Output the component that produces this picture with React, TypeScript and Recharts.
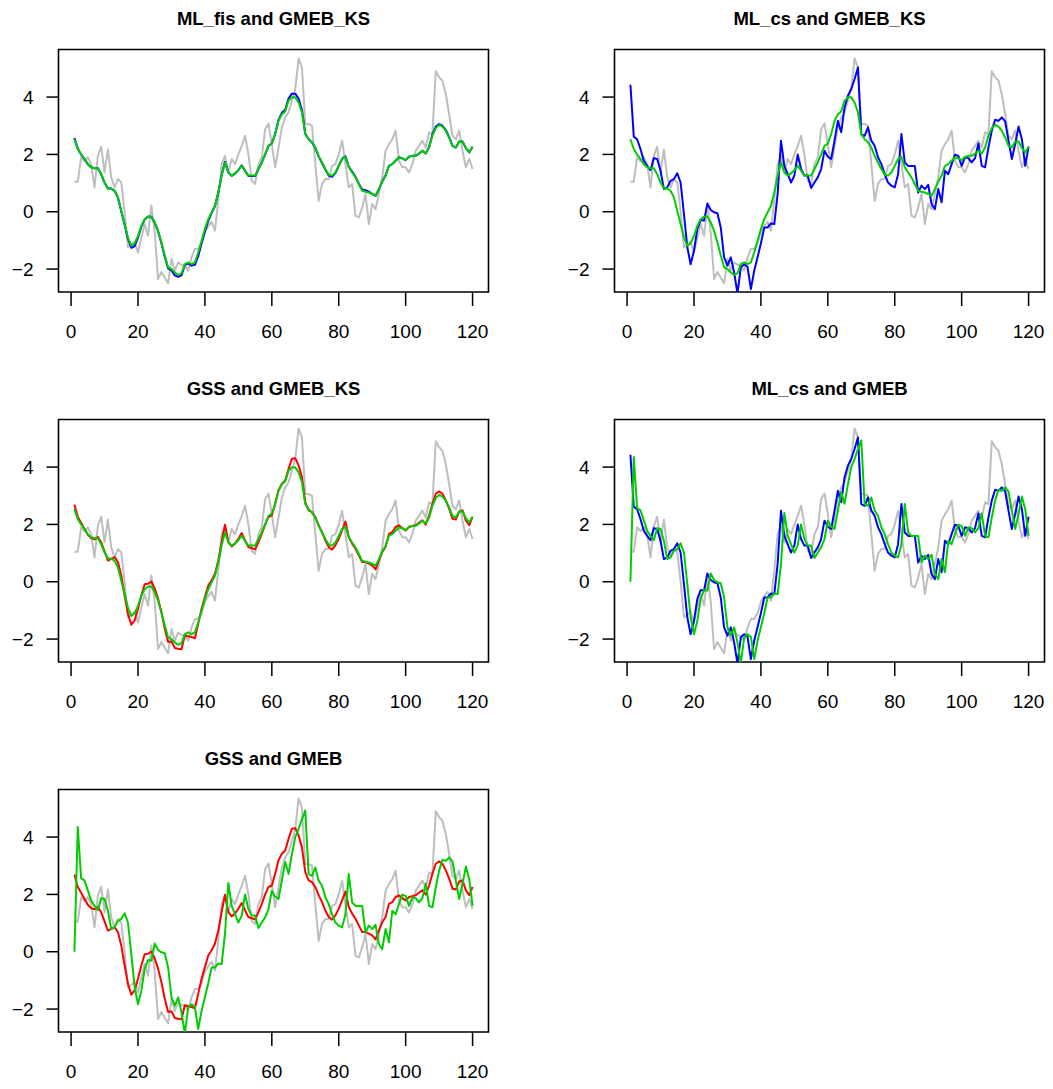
import React from "react";
import { LineChart, Line, XAxis, YAxis, ReferenceArea } from "recharts";

// Time index 1..120
const TIME: number[] = Array.from({ length: 120 }, (_, i) => i + 1);

// Observed series (drawn in grey in every panel)
const TRUTH: number[] = [
  1.05, 1.05, 1.9, 1.77, 1.9, 1.66, 0.85, 1.95, 2.27, 1.37,
  2.17, 1.2, 0.85, 1.14, 1.02, 0.0, -1.24, -1.15, -1.05, -1.42,
  -0.9, -0.43, -0.84, 0.22, -0.7, -2.35, -2.1, -2.3, -2.49, -1.65,
  -2.06, -1.77, -1.85, -1.9, -2.06, -1.6, -1.3, -1.3, -1.1, -0.7,
  -0.5, -0.35, -0.66, 0.4, 1.66, 1.95, 1.37, 1.84, 1.66, 2.0,
  2.3, 2.65, 2.0, 1.08, 0.97, 1.66, 1.9, 2.88, 3.08, 2.36,
  1.55, 2.24, 2.94, 3.29, 3.47, 3.87, 4.28, 5.35, 5.03, 3.06,
  3.06, 3.0, 1.66, 0.38, 0.97, 1.14, 1.14, 1.6, 1.66, 2.0,
  2.48, 1.66, 0.85, 0.97, -0.14, -0.2, 0.15, 0.62, -0.43, 0.27,
  0.09, 0.62, 1.2, 2.13, 2.36, 2.53, 2.83, 1.78, 1.55, 1.55,
  1.37, 1.66, 2.13, 2.3, 2.48, 2.24, 2.77, 2.71, 4.9, 4.69,
  4.57, 4.1, 3.4, 2.65, 2.53, 2.83, 2.13, 1.55, 1.84, 1.49,
];

// Smoothed estimates
const GMEB_KS: number[] = [
  2.53, 2.19, 2.0, 1.84, 1.66, 1.55, 1.52, 1.52, 1.31, 1.02,
  0.81, 0.81, 0.73, 0.5, 0.03, -0.43, -0.9, -1.19, -1.1, -0.84,
  -0.49, -0.26, -0.17, -0.17, -0.37, -0.66, -1.07, -1.53, -1.94, -2.0,
  -2.12, -2.2, -2.15, -1.83, -1.77, -1.83, -1.77, -1.42, -1.01, -0.6,
  -0.26, -0.02, 0.21, 0.67, 1.26, 1.72, 1.37, 1.26, 1.34, 1.45,
  1.6, 1.43, 1.26, 1.26, 1.26, 1.49, 1.72, 2.0, 2.3, 2.38,
  2.71, 3.17, 3.4, 3.5, 3.87, 3.99, 3.99, 3.81, 3.47, 2.71,
  2.53, 2.42, 2.24, 1.95, 1.72, 1.49, 1.29, 1.26, 1.37, 1.6,
  1.84, 1.92, 1.55, 1.37, 1.2, 0.97, 0.73, 0.7, 0.67, 0.62,
  0.56, 0.79, 1.05, 1.26, 1.6, 1.66, 1.78, 1.9, 1.86, 1.8,
  1.92, 1.95, 1.95, 2.03, 2.13, 2.03, 2.24, 2.65, 2.92, 3.03,
  2.97, 2.83, 2.59, 2.3, 2.24, 2.45, 2.45, 2.22, 2.07, 2.27,
];

const ML_FIS: number[] = [
  2.57, 2.2, 2.0, 1.84, 1.66, 1.55, 1.52, 1.52, 1.31, 1.02,
  0.81, 0.81, 0.73, 0.5, 0.02, -0.45, -0.95, -1.26, -1.2, -0.9,
  -0.52, -0.27, -0.17, -0.18, -0.38, -0.68, -1.1, -1.57, -1.98, -2.05,
  -2.22, -2.27, -2.22, -1.86, -1.8, -1.88, -1.85, -1.55, -1.1, -0.7,
  -0.32, -0.05, 0.2, 0.67, 1.27, 1.74, 1.37, 1.25, 1.33, 1.45,
  1.62, 1.43, 1.25, 1.25, 1.25, 1.49, 1.72, 2.0, 2.3, 2.38,
  2.72, 3.2, 3.45, 3.56, 3.95, 4.12, 4.12, 3.95, 3.55, 2.72,
  2.53, 2.42, 2.22, 1.93, 1.7, 1.47, 1.26, 1.22, 1.35, 1.6,
  1.85, 1.93, 1.57, 1.4, 1.22, 0.98, 0.78, 0.75, 0.7, 0.62,
  0.55, 0.79, 1.05, 1.27, 1.6, 1.66, 1.78, 1.9, 1.86, 1.8,
  1.92, 1.95, 1.95, 2.03, 2.13, 2.03, 2.25, 2.7, 2.97, 3.06,
  3.0, 2.85, 2.6, 2.3, 2.24, 2.45, 2.45, 2.22, 2.07, 2.27,
];

const GSS: number[] = [
  2.69, 2.26, 2.06, 1.85, 1.64, 1.52, 1.48, 1.56, 1.38, 1.06,
  0.74, 0.8, 0.86, 0.69, 0.22, -0.48, -1.12, -1.5, -1.35, -0.94,
  -0.48, -0.09, -0.07, 0.01, -0.24, -0.59, -1.06, -1.64, -2.1, -2.08,
  -2.31, -2.34, -2.36, -1.87, -1.9, -1.93, -1.97, -1.47, -0.94, -0.53,
  -0.13, 0.05, 0.28, 0.74, 1.38, 1.99, 1.38, 1.23, 1.33, 1.5,
  1.7, 1.44, 1.21, 1.17, 1.13, 1.38, 1.67, 1.99, 2.26, 2.31,
  2.72, 3.19, 3.42, 3.53, 3.94, 4.29, 4.31, 4.06, 3.65, 2.78,
  2.49, 2.43, 2.26, 1.97, 1.73, 1.44, 1.21, 1.12, 1.27, 1.5,
  1.79, 2.1, 1.56, 1.33, 1.15, 0.92, 0.69, 0.69, 0.63, 0.57,
  0.43, 0.74, 1.03, 1.21, 1.67, 1.73, 1.91, 1.97, 1.87, 1.79,
  1.91, 1.94, 1.97, 2.06, 2.14, 1.99, 2.31, 2.72, 3.07, 3.15,
  3.07, 2.84, 2.55, 2.2, 2.17, 2.45, 2.49, 2.14, 1.97, 2.26,
];

// Filtered estimates
const ML_CS: number[] = [
  4.43, 2.62, 2.53, 2.19, 1.78, 1.6, 1.45, 1.87, 1.84, 1.43,
  0.79, 0.85, 1.08, 1.14, 1.34, 1.02, -0.08, -1.24, -1.83, -1.36,
  -0.6, -0.29, -0.31, 0.29, 0.06, -0.02, -0.05, -0.55, -1.59, -1.88,
  -1.59, -2.12, -2.85, -1.94, -1.83, -1.92, -2.7, -2.06, -1.59, -1.1,
  -0.55, -0.55, -0.41, -0.43, 0.62, 2.48, 1.6, 1.31, 1.02, 1.26,
  2.0, 1.49, 1.26, 1.26, 0.83, 1.02, 1.2, 1.49, 2.13, 1.92,
  1.84, 2.48, 3.17, 2.77, 3.64, 4.05, 4.28, 4.63, 5.03, 2.71,
  2.65, 2.94, 2.48, 2.3, 1.9, 1.66, 1.31, 1.02, 0.91, 0.85,
  1.31, 2.71, 1.72, 1.6, 1.6, 1.6, 0.67, 0.91, 0.79, 0.94,
  0.27, 0.09, 0.79, 0.33, 1.43, 1.31, 1.66, 1.99, 1.95, 1.6,
  1.9, 1.87, 1.72, 1.87, 2.38, 1.6, 1.55, 2.24, 2.83, 3.21,
  3.17, 3.29, 3.15, 2.48, 1.84, 2.36, 2.97, 2.53, 1.6, 2.27,
];

const GMEB: number[] = [
  0.0, 4.35, 2.57, 2.49, 2.14, 1.79, 1.6, 1.45, 1.87, 1.84,
  1.43, 0.79, 0.85, 1.08, 1.14, 1.34, 1.02, -0.08, -1.24, -1.83,
  -1.36, -0.6, -0.29, -0.31, 0.29, 0.06, -0.02, -0.05, -0.55, -1.59,
  -1.88, -1.59, -2.12, -2.85, -1.94, -1.83, -1.92, -2.7, -2.06, -1.59,
  -1.1, -0.55, -0.55, -0.41, -0.43, 0.62, 2.4, 1.6, 1.31, 1.02,
  1.26, 2.0, 1.49, 1.26, 1.26, 0.83, 1.02, 1.2, 1.49, 2.13,
  1.92, 1.84, 2.48, 3.13, 2.72, 3.4, 4.0, 4.28, 4.63, 4.93,
  2.71, 2.65, 2.94, 2.48, 2.3, 1.9, 1.66, 1.31, 1.02, 0.91,
  0.85, 1.31, 2.71, 1.72, 1.6, 1.6, 1.6, 0.67, 0.91, 0.79,
  0.94, 0.27, 0.09, 0.79, 0.33, 1.43, 1.31, 1.66, 1.99, 1.95,
  1.6, 1.9, 1.87, 1.72, 1.87, 2.38, 1.6, 1.55, 2.24, 2.83,
  3.21, 3.17, 3.29, 3.15, 2.48, 1.84, 2.36, 2.97, 2.53, 1.6,
];

const X_TICKS: number[] = [0, 20, 40, 60, 80, 100, 120];
const Y_TICKS: number[] = [-2, 0, 2, 4];

const rows = TIME.map((t, i) => ({
  t,
  truth: TRUTH[i],
  mlFis: ML_FIS[i],
  mlCs: ML_CS[i],
  gss: GSS[i],
  gmebKs: GMEB_KS[i],
  gmeb: GMEB[i],
}));

const X_DOMAIN: [number, number] = [-3.76, 124.76];
const Y_DOMAIN: [number, number] = [-2.8, 5.66];

const GREY = "#BEBEBE";
const BLUE = "#0000FF";
const RED = "#FF0000";
const GREEN = "#00CD00";

const FONT = "'Liberation Sans', Arial, Helvetica, sans-serif";

type SeriesSpec = { key: string; color: string };

type PanelSpec = {
  title: string;
  left: number;
  top: number;
  series: SeriesSpec[];
};

const PANEL_W = 527;
const PANEL_H = 342;

const PANELS: PanelSpec[] = [
  {
    title: "ML_fis and GMEB_KS",
    left: 0,
    top: 0,
    series: [
      { key: "truth", color: GREY },
      { key: "mlFis", color: BLUE },
      { key: "gmebKs", color: GREEN },
    ],
  },
  {
    title: "ML_cs and GMEB_KS",
    left: 556,
    top: 0,
    series: [
      { key: "truth", color: GREY },
      { key: "mlCs", color: BLUE },
      { key: "gmebKs", color: GREEN },
    ],
  },
  {
    title: "GSS and GMEB_KS",
    left: 0,
    top: 370,
    series: [
      { key: "truth", color: GREY },
      { key: "gss", color: RED },
      { key: "gmebKs", color: GREEN },
    ],
  },
  {
    title: "ML_cs and GMEB",
    left: 556,
    top: 370,
    series: [
      { key: "truth", color: GREY },
      { key: "mlCs", color: BLUE },
      { key: "gmeb", color: GREEN },
    ],
  },
  {
    title: "GSS and GMEB",
    left: 0,
    top: 740,
    series: [
      { key: "truth", color: GREY },
      { key: "gss", color: RED },
      { key: "gmeb", color: GREEN },
    ],
  },
];

const fmt = (v: number) => (v < 0 ? "\u2212" + Math.abs(v) : String(v));

const tickStyle = { fontSize: 19, fill: "#000", fontFamily: FONT };

function Panel({ spec }: { spec: PanelSpec }) {
  return (
    <div
      style={{
        position: "absolute",
        left: spec.left,
        top: spec.top,
        width: PANEL_W,
        height: PANEL_H,
      }}
    >
      <LineChart
        width={PANEL_W}
        height={PANEL_H}
        data={rows}
        margin={{ top: 49.5, right: 38.5, bottom: 0, left: 8.5 }}
      >
        <XAxis
          dataKey="t"
          type="number"
          domain={X_DOMAIN}
          allowDataOverflow
          ticks={X_TICKS}
          interval={0}
          height={50}
          axisLine={false}
          tickLine={{ stroke: "#000", strokeWidth: 1.5 }}
          tickSize={14}
          tickMargin={19}
          tick={tickStyle}
        />
        <YAxis
          type="number"
          domain={Y_DOMAIN}
          allowDataOverflow
          ticks={Y_TICKS}
          interval={0}
          width={50}
          axisLine={false}
          tickLine={{ stroke: "#000", strokeWidth: 1.5 }}
          tickSize={12}
          tickMargin={13}
          tick={tickStyle}
          tickFormatter={fmt}
        />
        {spec.series.map((s) => (
          <Line
            key={s.key}
            dataKey={s.key}
            type="linear"
            stroke={s.color}
            strokeWidth={2}
            strokeLinejoin="round"
            dot={false}
            activeDot={false}
            isAnimationActive={false}
          />
        ))}
        <ReferenceArea
          x1={X_DOMAIN[0]}
          x2={X_DOMAIN[1]}
          y1={Y_DOMAIN[0]}
          y2={Y_DOMAIN[1]}
          fill="none"
          fillOpacity={0}
          stroke="#000"
          strokeWidth={1.6}
          ifOverflow="visible"
        />
      </LineChart>
      <svg
        width={PANEL_W}
        height={40}
        style={{ position: "absolute", left: 0, top: 0, pointerEvents: "none" }}
      >
        <text
          x={273.5}
          y={25}
          textAnchor="middle"
          fontFamily={FONT}
          fontWeight="bold"
          fontSize={18.5}
          fill="#000"
        >
          {spec.title}
        </text>
      </svg>
    </div>
  );
}

export default function App() {
  return (
    <div
      style={{
        position: "absolute",
        left: 0,
        top: 0,
        width: 1053,
        height: 1089,
        overflow: "hidden",
        background: "#fff",
      }}
    >
      {PANELS.map((p) => (
        <Panel key={p.title} spec={p} />
      ))}
    </div>
  );
}
